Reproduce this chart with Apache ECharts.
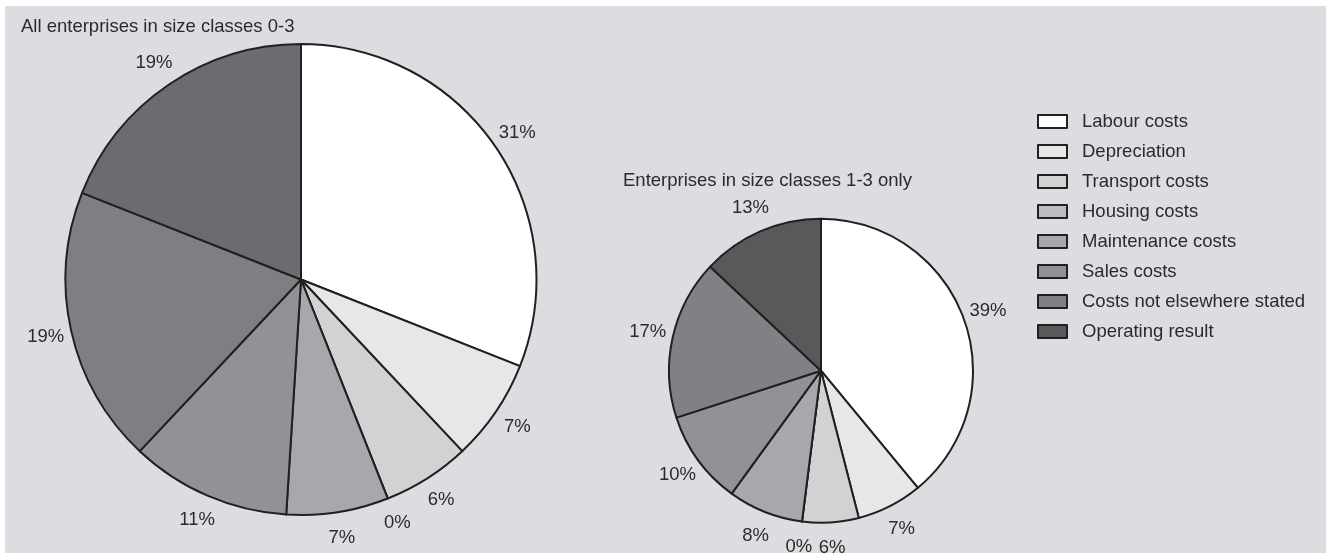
<!DOCTYPE html>
<html>
<head>
<meta charset="utf-8">
<script src="https://cdn.jsdelivr.net/npm/echarts@6/dist/echarts.min.js"></script>
<style>
  html, body { margin: 0; padding: 0; background: #ffffff; width: 1329px; height: 553px; overflow: hidden; }
  #chart { position: absolute; left: 5px; top: 6px; width: 1321px; height: 547px; }
</style>
</head>
<body>
<div id="chart"></div>
<script>
// Cost structure, shares in percent, clockwise from 12 o'clock
const categories = [
  'Labour costs',
  'Depreciation',
  'Transport costs',
  'Housing costs',
  'Maintenance costs',
  'Sales costs',
  'Costs not elsewhere stated',
  'Operating result'
];
const sharesAllClasses = [31, 7, 6, 0, 7, 11, 19, 19];     // size classes 0-3
const sharesClasses1to3 = [39, 7, 6, 0, 8, 10, 17, 13];    // size classes 1-3 only

const titleAll = 'All enterprises in size classes 0-3';
const titleSmall = 'Enterprises in size classes 1-3 only';

// Grey ramp for the slices
const greysAll = ['#ffffff', '#e6e7e9', '#d1d2d4', '#bcbdc0', '#a7a8ab', '#919296', '#7e7f83', '#6b6c70'];
const greysSmall = ['#ffffff', '#e6e7e9', '#d1d2d4', '#bcbdc0', '#a7a8ab', '#919296', '#808185', '#58595b'];

const FONT = 'Liberation Sans, Arial, Helvetica, sans-serif';
const FONT_SIZE = 18.5;
const TEXT = '#2b2b2b';
const EDGE = '#231f20';

function sliceData(values, greys) {
  return categories.map((name, i) => ({
    name: name,
    value: values[i],
    itemStyle: { color: greys[i] }
  }));
}

// Solid pie with outlined slices
function piePart(values, greys, center, radius) {
  return {
    type: 'pie',
    center: center,
    radius: [0, radius],
    startAngle: 90,
    clockwise: true,
    silent: true,
    animation: false,
    data: sliceData(values, greys),
    itemStyle: { borderColor: EDGE, borderWidth: 2 },
    label: { show: false },
    labelLine: { show: false },
    emphasis: { disabled: true }
  };
}

// Invisible ring whose inside labels put the percentages just outside the pie
function labelRing(values, center, inner, outer) {
  return {
    type: 'pie',
    center: center,
    radius: [inner, outer],
    startAngle: 90,
    clockwise: true,
    silent: true,
    animation: false,
    data: categories.map((name, i) => ({ name: name, value: values[i] })),
    itemStyle: { color: 'rgba(0,0,0,0)', borderWidth: 0 },
    label: {
      show: true,
      position: 'inside',
      formatter: '{c}%',
      color: TEXT,
      fontFamily: FONT,
      fontSize: FONT_SIZE
    },
    labelLine: { show: false },
    emphasis: { disabled: true }
  };
}

const leftCenter = [296, 273.5];
const rightCenter = [816, 364.7];

const chart = echarts.init(document.getElementById('chart'), null, { renderer: 'canvas' });
chart.setOption({
  backgroundColor: '#dcdde0',
  animation: false,
  title: [
    {
      text: titleAll,
      left: 16, top: 12,
      padding: 0,
      textStyle: { fontFamily: FONT, fontSize: FONT_SIZE, fontWeight: 'normal', color: TEXT, lineHeight: 18 }
    },
    {
      text: titleSmall,
      left: 618, top: 166,
      padding: 0,
      textStyle: { fontFamily: FONT, fontSize: FONT_SIZE, fontWeight: 'normal', color: TEXT, lineHeight: 18 }
    }
  ],
  legend: {
    orient: 'vertical',
    left: 1032,
    top: 106,
    padding: 0,
    itemWidth: 29,
    itemHeight: 13,
    itemGap: 11,
    icon: 'rect',
    selectedMode: false,
    data: categories.map((name, i) => ({
      name: name,
      itemStyle: { color: greysSmall[i], borderColor: EDGE, borderWidth: 2 }
    })),
    textStyle: {
      fontFamily: FONT, fontSize: FONT_SIZE, color: TEXT, lineHeight: 18,
      padding: [0, 0, 0, 10]
    }
  },
  series: [
    piePart(sharesClasses1to3, greysSmall, rightCenter, 152),
    piePart(sharesAllClasses, greysAll, leftCenter, 235.5),
    labelRing(sharesClasses1to3, rightCenter, 169, 180),
    labelRing(sharesAllClasses, leftCenter, 253, 264)
  ]
});
</script>
</body>
</html>
